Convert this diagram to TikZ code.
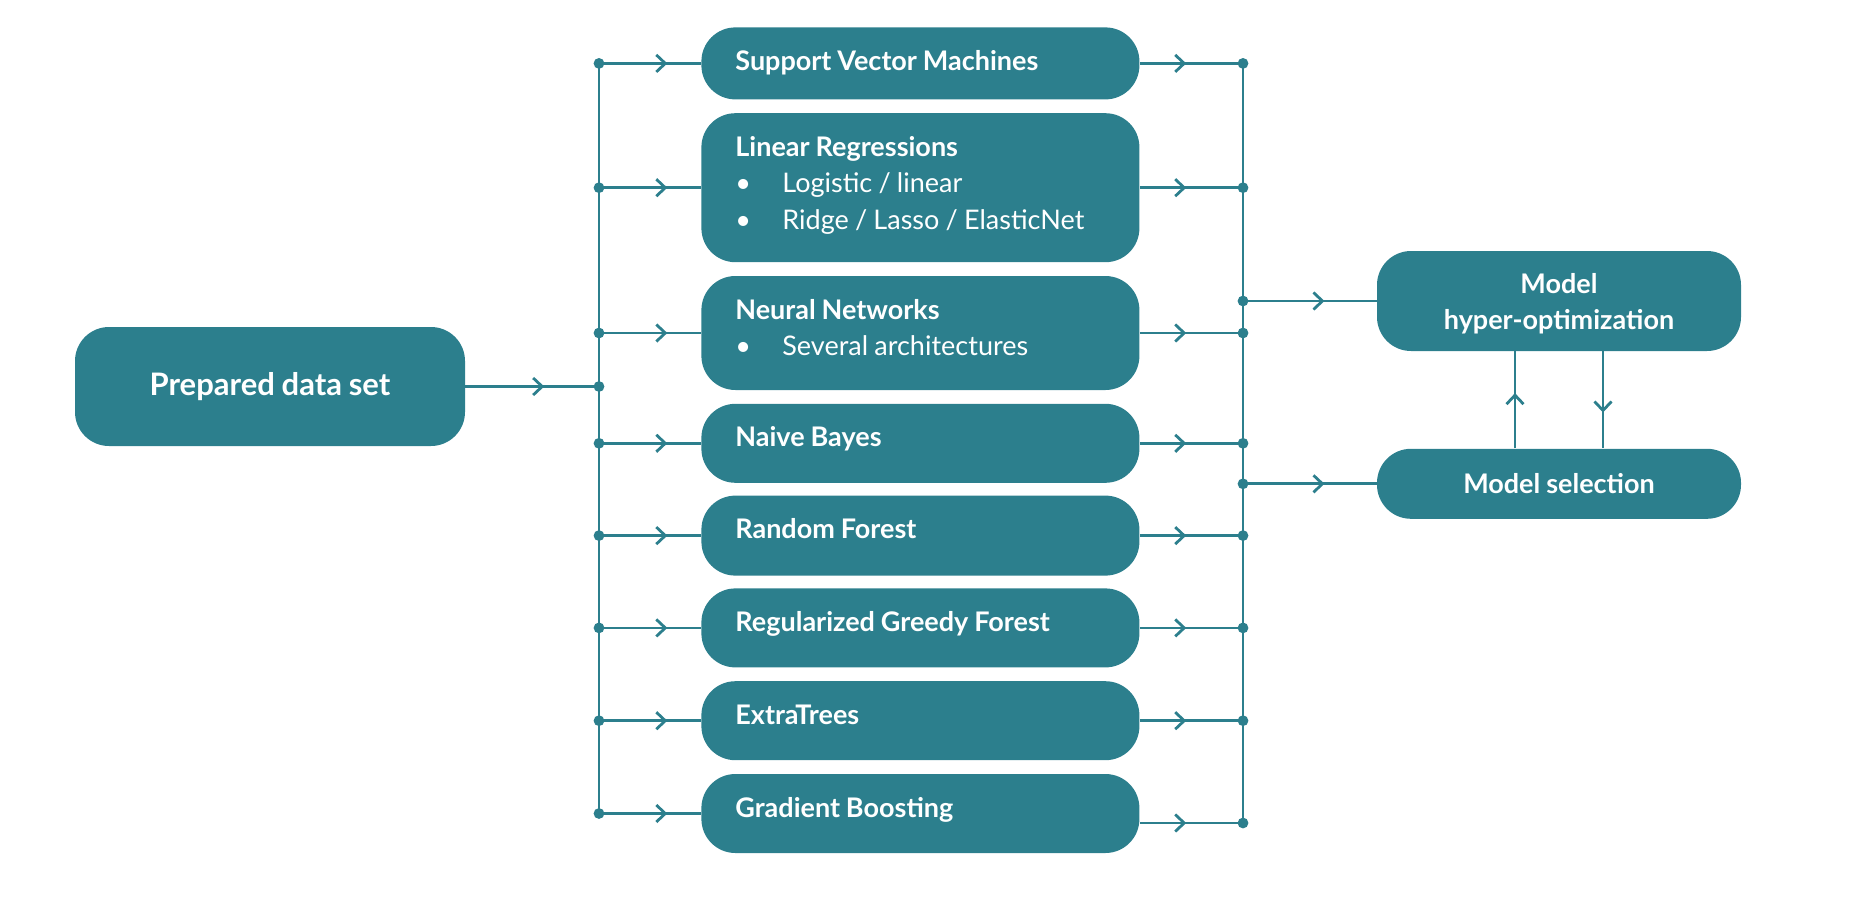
\documentclass[tikz,border=0pt]{standalone}
\usepackage{fontspec}
\setmainfont{Lato}[WordSpace=0.9]
\usetikzlibrary{positioning,arrows.meta,decorations.markings}
\definecolor{mlteal}{HTML}{2C7F8D}
\newcommand\itm[1]{\mbox{\mdseries\makebox[23.5pt][l]{\textbullet}#1}}

\begin{document}
\begin{tikzpicture}[x=0.5pt, y=-0.5pt,
  box/.style={fill=mlteal, text=white, rounded corners=17pt, font=\fontsize{13.5}{18.25}\selectfont\bfseries},
  algo/.style={box, anchor=north west, inner xsep=17pt, inner ysep=0pt, text width=185pt, align=flush left, text height=21.5pt, text depth=#1},
  stage/.style={box, minimum width=182pt, align=center, inner sep=0pt},
  bus/.style={line width=1.4pt, mlteal},
  link/.style={bus, decoration={markings, mark=at position #1 with {\arrow{Straight Barb[length=4.5pt,width=8.5pt]}}}, postaction={decorate}}]
\useasboundingbox (0,0) rectangle (1854,900);
\node[box, minimum width=195pt, minimum height=59.5pt, font=\fontsize{15.5}{20}\selectfont\bfseries] (pds) at (270,386.5) {Prepared data set};
\node[algo=14.5pt] (svm) at (701,27) {Support Vector Machines};
\node[algo=53pt, below=6.5pt of svm] (lr) {Linear Regressions\\ \itm{Logistic / linear}\\ \itm{Ridge / Lasso / ElasticNet}};
\node[algo=35.5pt, below=6.5pt of lr] (nn) {Neural Networks\\ \itm{Several architectures}};
\node[algo=18pt, below=6.5pt of nn] (nb) {Naive Bayes};
\node[algo=18.5pt, below=6pt of nb] (rf) {Random Forest};
\node[algo=18pt, below=6pt of rf] (rgf) {Regularized Greedy Forest};
\node[algo=18pt, below=6.5pt of rgf] (et) {ExtraTrees};
\node[algo=18pt, below=6.5pt of et] (gb) {Gradient Boosting};
\node[stage, minimum height=50pt, text height=28.7pt, text depth=0pt] (mh) at (1559,301) {Model\\hyper-optimization};
\node[stage, minimum height=35pt, below=48.5pt of mh] (ms) {Model selection};
\coordinate (lbus) at (599,0);
\coordinate (rbus) at (1243,0);
\coordinate (gbout) at ([yshift=-4.75pt]gb.east);
\draw[link=0.59] (pds) -- (pds.east -| lbus);
\draw[bus] (svm.west -| lbus) -- (gb.west -| lbus);
\draw[link=0.67] (svm.west -| lbus) -- (svm.west);
\draw[link=0.67] (lr.west -| lbus) -- (lr.west);
\draw[link=0.67] (nn.west -| lbus) -- (nn.west);
\draw[link=0.67] (nb.west -| lbus) -- (nb.west);
\draw[link=0.67] (rf.west -| lbus) -- (rf.west);
\draw[link=0.67] (rgf.west -| lbus) -- (rgf.west);
\draw[link=0.67] (et.west -| lbus) -- (et.west);
\draw[link=0.67] (gb.west -| lbus) -- (gb.west);
\draw[link=0.45] (svm.east) -- (svm.east -| rbus);
\draw[link=0.45] (lr.east) -- (lr.east -| rbus);
\draw[link=0.45] (nn.east) -- (nn.east -| rbus);
\draw[link=0.45] (nb.east) -- (nb.east -| rbus);
\draw[link=0.45] (rf.east) -- (rf.east -| rbus);
\draw[link=0.45] (rgf.east) -- (rgf.east -| rbus);
\draw[link=0.45] (et.east) -- (et.east -| rbus);
\draw[link=0.45] (gbout) -- (gbout -| rbus);
\draw[bus] (svm.east -| rbus) -- (gbout -| rbus);
\draw[link=0.61] (mh.west -| rbus) -- (mh.west);
\draw[link=0.61] (ms.west -| rbus) -- (ms.west);
\draw[link=0.57] ([xshift=-22pt]ms.north) -- ([xshift=-22pt]mh.south);
\draw[link=0.63] ([xshift=22pt]mh.south) -- ([xshift=22pt]ms.north);
\fill[mlteal] (pds.east -| lbus) circle (2.7pt) (svm.west -| lbus) circle (2.7pt) (lr.west -| lbus) circle (2.7pt) (nn.west -| lbus) circle (2.7pt) (nb.west -| lbus) circle (2.7pt) (rf.west -| lbus) circle (2.7pt) (rgf.west -| lbus) circle (2.7pt) (et.west -| lbus) circle (2.7pt) (gb.west -| lbus) circle (2.7pt);
\fill[mlteal] (svm.east -| rbus) circle (2.7pt) (lr.east -| rbus) circle (2.7pt) (nn.east -| rbus) circle (2.7pt) (nb.east -| rbus) circle (2.7pt) (rf.east -| rbus) circle (2.7pt) (rgf.east -| rbus) circle (2.7pt) (et.east -| rbus) circle (2.7pt) (gbout -| rbus) circle (2.7pt) (mh.west -| rbus) circle (2.7pt) (ms.west -| rbus) circle (2.7pt);
\end{tikzpicture}
\end{document}
